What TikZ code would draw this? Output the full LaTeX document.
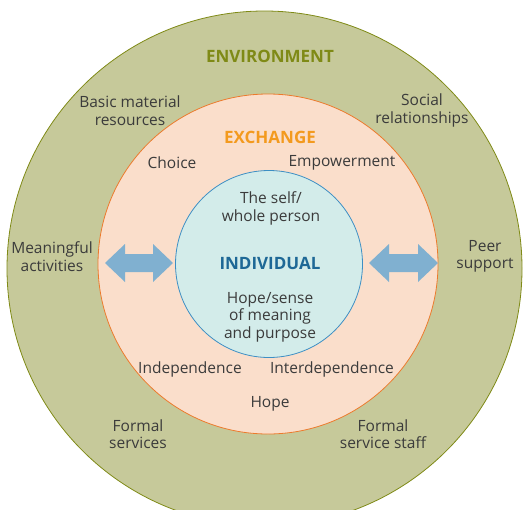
\documentclass[tikz,border=0pt]{standalone}
\usepackage{fontspec}
\setmainfont{Open Sans}
\definecolor{envfill}{HTML}{C6C99A}
\definecolor{envline}{HTML}{7F8A16}
\definecolor{envtext}{HTML}{7F8A16}
\definecolor{exfill}{HTML}{FADECB}
\definecolor{exline}{HTML}{EC7A2C}
\definecolor{extext}{HTML}{F39A1E}
\definecolor{infill}{HTML}{D3ECEA}
\definecolor{inline}{HTML}{3D8FC4}
\definecolor{intext}{HTML}{1E6896}
\definecolor{arrowc}{HTML}{80B0D0}
\definecolor{txt}{HTML}{3B3B3B}
\begin{document}
\begin{tikzpicture}[x=1pt,y=-1pt,
  ring/.style={circle,inner sep=0pt,line width=0.8pt},
  lbl/.style={text=txt,font=\fontsize{15.5}{17.5}\selectfont,align=center,inner sep=0pt},
  head/.style={font=\bfseries\fontsize{17}{19}\selectfont,inner sep=0pt},
  arr/.style={fill=arrowc,draw=none}]
\useasboundingbox (0,0) rectangle (524,509);
\begin{scope}
\clip (0,0) rectangle (524,509);
\node[ring,draw=envline,fill=envfill,minimum size=515pt] (env) at (264.5,268.5) {};
\end{scope}
\node[ring,draw=exline,fill=exfill,minimum size=340pt] (exch) at (268,264) {};
\node[ring,draw=inline,fill=infill,minimum size=187pt] (indiv) at (269,264) {};
% arrows
\coordinate (la) at (105,263);
\coordinate (ra) at (369,263);
\fill[arr] (la) -- ++(20,-19) -- ++(0,10) -- ++(28,0) -- ++(0,-10) -- ++(20,19) -- ++(-20,19) -- ++(0,-10) -- ++(-28,0) -- ++(0,10) -- cycle;
\fill[arr] (ra) -- ++(20,-19) -- ++(0,10) -- ++(29,0) -- ++(0,-10) -- ++(20,19) -- ++(-20,19) -- ++(0,-10) -- ++(-29,0) -- ++(0,10) -- cycle;
% headings
\node[head,text=envtext] (envt) at (270,56) {ENVIRONMENT};
\node[head,text=extext] (ext) at (270,137) {EXCHANGE};
\node[head,text=intext] (indt) at (270,263) {INDIVIDUAL};
% environment labels
\node[lbl] (basic) at (130,110.5) {Basic material\\resources};
\node[lbl] (social) at (422,110.5) {Social\\relationships};
\node[lbl] (mean) at (52,256.5) {Meaningful\\activities};
\node[lbl] (peer) at (485,256.5) {Peer\\support};
\node[lbl] (fserv) at (138,434) {Formal\\services};
\node[lbl] (fstaff) at (383,434) {Formal\\service staff};
% exchange labels
\node[lbl] (choice) at (172,162.5) {Choice};
\node[lbl] (emp) at (342,162.5) {Empowerment};
\node[lbl] (indep) at (190,369.5) {Independence};
\node[lbl] (inter) at (332,369.5) {Interdependence};
\node[lbl] (hope) at (270,403.5) {Hope};
% individual labels
\node[lbl] (self) at (271,208.5) {The self/\\whole person};
\node[lbl] (hsense) at (270,317) {Hope/sense\\of meaning\\and purpose};
\end{tikzpicture}
\end{document}
